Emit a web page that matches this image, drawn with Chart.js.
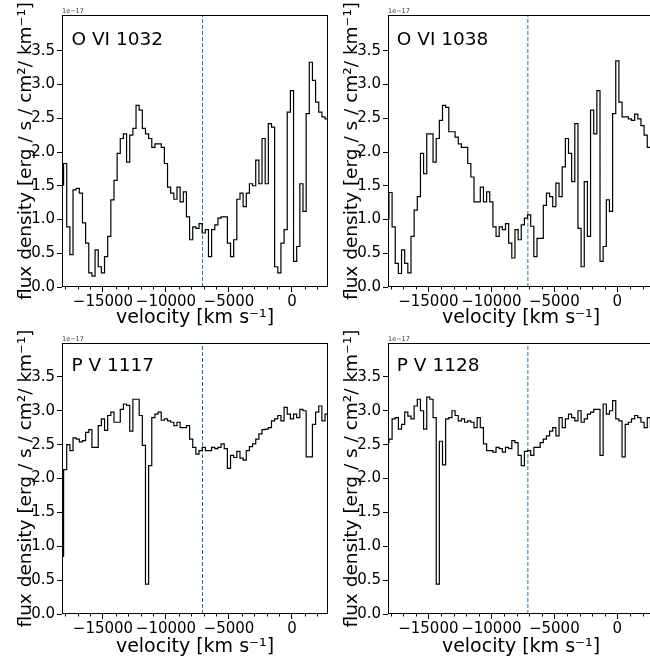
<!DOCTYPE html>
<html>
<head>
<meta charset="utf-8">
<script src="https://cdn.jsdelivr.net/npm/chart.js@4.4.0/dist/chart.umd.min.js"></script>
<style>
    html, body { margin: 0; padding: 0; background: #fff; }
    #figure { position: relative; width: 650px; height: 658px; overflow: hidden; }
    #figure canvas { position: absolute; }
</style>
</head>
<body>
<div id="figure">
    <canvas id="ovi1032" width="330" height="329" style="left:0;top:0"></canvas>
    <canvas id="ovi1038" width="330" height="329" style="left:326px;top:0"></canvas>
    <canvas id="pv1117" width="330" height="344" style="left:0;top:314px"></canvas>
    <canvas id="pv1128" width="330" height="344" style="left:326px;top:314px"></canvas>
</div>
<script>
// velocity bins (km/s), shared by all four panels
const velocity = [
    -18250, -18000, -17750, -17500, -17250, -17000, -16750, -16500, -16250, -16000,
    -15750, -15500, -15250, -15000, -14750, -14500, -14250, -14000, -13750, -13500,
    -13250, -13000, -12750, -12500, -12250, -12000, -11750, -11500, -11250, -11000,
    -10750, -10500, -10250, -10000, -9750, -9500, -9250, -9000, -8750, -8500,
    -8250, -8000, -7750, -7500, -7250, -7000, -6750, -6500, -6250, -6000,
    -5750, -5500, -5250, -5000, -4750, -4500, -4250, -4000, -3750, -3500,
    -3250, -3000, -2750, -2500, -2250, -2000, -1750, -1500, -1250, -1000,
    -750, -500, -250, 0, 250, 500, 750, 1000, 1250, 1500,
    1750, 2000, 2250, 2500, 2750, 3000
];

// flux density, units of 1e-17
const fluxOVI1032 = [
    1.51, 1.83, 0.89, 0.48, 1.44, 1.46, 1.39, 0.95, 0.65, 0.21,
    0.16, 0.55, 0.30, 0.21, 0.45, 0.75, 1.29, 1.58, 1.98, 2.20,
    2.27, 1.85, 2.25, 2.35, 2.69, 2.62, 2.35, 2.27, 2.20, 2.07,
    2.12, 2.12, 2.07, 1.83, 1.48, 1.39, 1.30, 1.48, 1.26, 1.41,
    1.04, 0.70, 0.89, 0.87, 0.94, 0.80, 0.85, 0.45, 0.85, 0.92,
    1.02, 1.04, 1.04, 0.65, 0.45, 0.70, 1.30, 1.39, 1.19, 1.39,
    1.53, 1.50, 1.88, 1.53, 2.20, 1.53, 2.42, 2.37, 0.30, 0.21,
    0.65, 0.85, 2.59, 2.91, 0.38, 0.60, 1.53, 1.12, 2.57, 3.33,
    3.06, 2.74, 2.59, 2.52, 2.49, 2.49
];

const fluxOVI1038 = [
    1.00, 1.40, 0.89, 0.35, 0.20, 0.55, 0.35, 0.21, 0.75, 1.14,
    1.34, 1.98, 1.68, 2.27, 2.27, 1.85, 2.20, 2.47, 2.69, 2.66,
    2.30, 2.30, 2.22, 2.12, 2.07, 2.07, 1.83, 1.63, 1.26, 1.26,
    1.48, 1.26, 1.41, 1.26, 0.89, 0.75, 0.89, 0.85, 0.94, 0.65,
    0.43, 0.85, 0.70, 0.92, 1.02, 1.07, 0.90, 0.45, 0.72, 0.72,
    1.21, 1.39, 1.34, 1.19, 1.54, 1.34, 1.78, 2.20, 1.98, 1.56,
    2.42, 0.87, 0.30, 1.56, 0.75, 2.62, 2.27, 2.91, 0.38, 0.60,
    1.29, 1.12, 2.57, 3.35, 2.74, 2.52, 2.52, 2.49, 2.47, 2.56,
    2.49, 2.39, 2.25, 2.07, 2.07, 2.05
];

const fluxPV1117 = [
    0.85, 2.13, 2.50, 2.41, 2.60, 2.58, 2.54, 2.56, 2.68, 2.72,
    2.46, 2.46, 2.78, 2.88, 2.71, 2.93, 2.98, 2.83, 2.83, 3.02,
    3.10, 3.08, 2.70, 3.17, 3.17, 2.93, 2.49, 0.44, 2.19, 2.90,
    2.95, 2.98, 2.86, 2.88, 2.85, 2.83, 2.78, 2.83, 2.75, 2.75,
    2.78, 2.58, 2.46, 2.36, 2.41, 2.46, 2.41, 2.41, 2.46, 2.44,
    2.46, 2.51, 2.44, 2.15, 2.34, 2.31, 2.40, 2.30, 2.27, 2.41,
    2.47, 2.51, 2.58, 2.66, 2.72, 2.73, 2.75, 2.85, 2.88, 2.93,
    2.85, 3.05, 2.95, 2.88, 2.95, 2.90, 3.02, 3.00, 2.32, 2.32,
    2.80, 2.98, 3.07, 2.85, 2.95, 2.83
];

const fluxPV1128 = [
    2.53, 2.58, 2.88, 2.90, 2.73, 2.80, 2.98, 2.92, 2.88, 3.07,
    3.17, 3.00, 2.73, 3.20, 3.17, 2.90, 0.44, 2.55, 2.20, 2.88,
    2.90, 3.00, 2.93, 2.85, 2.88, 2.83, 2.85, 2.83, 2.75, 2.90,
    2.75, 2.51, 2.41, 2.41, 2.39, 2.46, 2.44, 2.39, 2.46, 2.44,
    2.56, 2.53, 2.34, 2.19, 2.40, 2.41, 2.34, 2.46, 2.46, 2.53,
    2.58, 2.63, 2.70, 2.75, 2.63, 2.90, 2.75, 2.88, 2.95, 2.90,
    2.85, 3.00, 2.83, 2.88, 2.95, 2.98, 3.02, 3.02, 2.34, 3.10,
    2.95, 3.00, 3.15, 2.88, 2.85, 2.32, 2.80, 2.83, 2.88, 2.93,
    2.90, 2.83, 2.75, 2.90, 2.75, 2.80
];

const markerVelocity = -7100;
const velocityTicks = [-15000, -10000, -5000, 0];
const velocityMinorTicks = [-18000, -17000, -16000, -14000, -13000, -12000, -11000, -9000, -8000,
    -7000, -6000, -4000, -3000, -2000, -1000, 1000, 2000];
const fluxTicks = [0, 0.5, 1.0, 1.5, 2.0, 2.5, 3.0, 3.5];

const FONT = "'DejaVu Sans', sans-serif";
Chart.defaults.font.family = FONT;
Chart.defaults.color = '#000';

const panelFrame = {
    id: 'panelFrame',
    afterDatasetsDraw(chart, args, opts) {
        const { ctx, chartArea: a, scales: { x, y } } = chart;
        ctx.save();
        ctx.strokeStyle = '#000';
        ctx.lineWidth = 1;
        ctx.strokeRect(Math.round(a.left) + 0.5, Math.round(a.top) + 0.5,
            Math.round(a.right - a.left) - 1, Math.round(a.bottom - a.top) - 1);

        // minor ticks on the velocity axis
        ctx.beginPath();
        velocityMinorTicks.forEach(v => {
            const px = Math.round(x.getPixelForValue(v)) + 0.5;
            if (px < a.left || px > a.right) return;
            ctx.moveTo(px, a.bottom);
            ctx.lineTo(px, a.bottom + 2.5);
        });
        ctx.stroke();

        ctx.fillStyle = '#000';
        ctx.font = '18.5px ' + FONT;
        ctx.textBaseline = 'alphabetic';
        ctx.fillText(opts.title, x.getPixelForValue(-17500), y.getPixelForValue(3.59));

        ctx.font = '6.5px ' + FONT;
        ctx.fillStyle = '#333';
        ctx.fillText('1e\u221217', a.left, a.top - 2);
        ctx.restore();
    }
};

function formatVelocity(v) {
    return v < 0 ? '\u2212' + Math.abs(v) : String(v);
}

function buildPanel(id, title, flux, xMin, xMax, yMax, padTop, xAxisHeight) {
    const tickGrid = {
        drawOnChartArea: false,
        drawTicks: true,
        tickLength: 5,
        tickColor: '#000',
        tickWidth: 1
    };

    return new Chart(document.getElementById(id), {
        type: 'line',
        data: {
            datasets: [
                {
                    data: velocity.map((v, i) => ({ x: v, y: flux[i] })),
                    stepped: 'middle',
                    borderColor: '#000',
                    borderWidth: 1.2,
                    pointRadius: 0,
                    fill: false
                },
                {
                    data: [{ x: markerVelocity, y: 0 }, { x: markerVelocity, y: yMax }],
                    borderColor: '#1f77b4',
                    borderWidth: 1,
                    borderDash: [4, 2],
                    pointRadius: 0,
                    fill: false
                }
            ]
        },
        options: {
            responsive: false,
            animation: false,
            events: [],
            layout: { padding: { top: padTop, right: 2, left: 0, bottom: 0 } },
            plugins: {
                legend: { display: false },
                tooltip: { enabled: false },
                panelFrame: { title: title }
            },
            scales: {
                x: {
                    type: 'linear',
                    min: xMin,
                    max: xMax,
                    afterBuildTicks: scale => {
                        scale.ticks = velocityTicks.map(v => ({ value: v }));
                    },
                    afterFit: scale => { scale.height = xAxisHeight; },
                    grid: tickGrid,
                    border: { display: false },
                    ticks: {
                        autoSkip: false,
                        maxRotation: 0,
                        padding: 1,
                        font: { size: 15 },
                        callback: v => formatVelocity(v)
                    },
                    title: {
                        display: true,
                        text: 'velocity [km s\u207B\u00B9]',
                        font: { size: 19, lineHeight: 1 },
                        padding: { top: 0, bottom: 1 }
                    }
                },
                y: {
                    type: 'linear',
                    min: 0,
                    max: yMax,
                    afterBuildTicks: scale => {
                        scale.ticks = fluxTicks.map(v => ({ value: v }));
                    },
                    afterFit: scale => { scale.width = 62; },
                    grid: tickGrid,
                    border: { display: false },
                    ticks: {
                        padding: 2,
                        font: { size: 15 },
                        callback: v => v.toFixed(1)
                    },
                    title: {
                        display: true,
                        text: 'flux density [erg / s / cm\u00B2/ km\u207B\u00B9]',
                        font: { size: 18.5, lineHeight: 1 },
                        padding: { top: 17, bottom: 0 }
                    }
                }
            }
        },
        plugins: [panelFrame]
    });
}

buildPanel('ovi1032', 'O VI 1032', fluxOVI1032, -18250, 2860, 4.03, 15, 42);
buildPanel('ovi1038', 'O VI 1038', fluxOVI1038, -18200, 2910, 4.03, 15, 42);
buildPanel('pv1117', 'P V 1117', fluxPV1117, -18250, 2860, 4.0, 29, 44);
buildPanel('pv1128', 'P V 1128', fluxPV1128, -18200, 2910, 4.0, 29, 44);
</script>
</body>
</html>
